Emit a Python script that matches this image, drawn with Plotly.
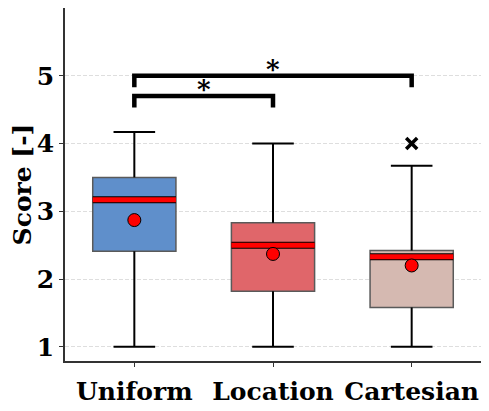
import plotly.graph_objects as go

# box statistics
categories = ["Uniform", "Location", "Cartesian"]
q1 = [2.41, 1.82, 1.58]
medians = [3.17, 2.50, 2.33]
q3 = [3.50, 2.83, 2.42]
lower = [1.0, 1.0, 1.0]
upper = [4.17, 4.00, 3.67]
means = [2.87, 2.37, 2.20]
outlier_x = [2]
outlier_y = [4.0]
box_colors = ["#5f8fcb", "#e0666a", "#d5b9b1"]

# significance brackets: (left group, right group, height)
brackets = [(0, 1, 4.70), (0, 2, 5.00)]

FONT = "DejaVu Serif"
half = 0.3
cap = 0.15

fig = go.Figure()

for i, name in enumerate(categories):
    fig.add_trace(go.Box(
        x=[i], q1=[q1[i]], median=[medians[i]], q3=[q3[i]],
        lowerfence=[q1[i]], upperfence=[q3[i]],
        width=0.6, fillcolor=box_colors[i],
        line=dict(color="#5a5a5a", width=1.5),
        name=name, showlegend=False, hoverinfo="skip",
    ))

# whiskers and caps
wx, wy = [], []
for i in range(len(categories)):
    wx += [i, i, None, i, i, None, i - cap, i + cap, None, i - cap, i + cap, None]
    wy += [lower[i], q1[i], None, q3[i], upper[i], None,
           lower[i], lower[i], None, upper[i], upper[i], None]
fig.add_trace(go.Scatter(x=wx, y=wy, mode="lines",
                         line=dict(color="black", width=2), showlegend=False))

# medians: black edge under a red band
mx, my = [], []
for i in range(len(categories)):
    mx += [i - half, i + half, None]
    my += [medians[i], medians[i], None]
fig.add_trace(go.Scatter(x=mx, y=my, mode="lines",
                         line=dict(color="black", width=7), showlegend=False))
fig.add_trace(go.Scatter(x=mx, y=my, mode="lines",
                         line=dict(color="red", width=5), showlegend=False))

# means
fig.add_trace(go.Scatter(
    x=list(range(len(categories))), y=means, mode="markers",
    marker=dict(color="red", size=13, line=dict(color="black", width=1)),
    showlegend=False))

# outlier
fig.add_trace(go.Scatter(
    x=outlier_x, y=outlier_y, mode="markers",
    marker=dict(symbol="x-thin", size=11, line=dict(color="black", width=3.5)),
    showlegend=False))

# brackets
for a, b, h in brackets:
    fig.add_trace(go.Scatter(
        x=[a, a, b, b], y=[h - 0.17, h, h, h - 0.17], mode="lines",
        line=dict(color="black", width=4.5), showlegend=False))
    fig.add_annotation(x=(a + b) / 2, y=h, text="*", showarrow=False,
                       yanchor="bottom", yshift=-10,
                       font=dict(family=FONT, size=26, color="black", weight="bold"))

# the page body adds an 8px margin, so the figure is sized to fit inside it
fig.update_layout(
    width=481, height=403,
    margin=dict(l=57, r=8, t=0, b=50),
    plot_bgcolor="white", paper_bgcolor="white",
    font=dict(family=FONT, color="black"),
)
fig.update_xaxes(
    range=[-0.5, 2.5], tickvals=list(range(len(categories))), ticktext=categories,
    showline=True, linecolor="#333", linewidth=1.5, showgrid=False, zeroline=False,
    ticks="outside", ticklen=4, tickcolor="#333", ticklabelstandoff=3,
    tickfont=dict(family=FONT, size=25, weight="bold", color="black"),
)
fig.update_yaxes(
    range=[0.79, 6.0], tickvals=[1, 2, 3, 4, 5],
    showline=True, linecolor="#333", linewidth=1.5, zeroline=False,
    showgrid=True, gridcolor="#dedede", griddash="4px,2px", gridwidth=1,
    ticks="outside", ticklen=4, tickcolor="#333",
    tickfont=dict(family=FONT, size=25, weight="bold", color="black"),
    title=dict(text="Score [-]", standoff=4,
               font=dict(family=FONT, size=25, weight="bold", color="black")),
)

fig.write_html("out.html")
